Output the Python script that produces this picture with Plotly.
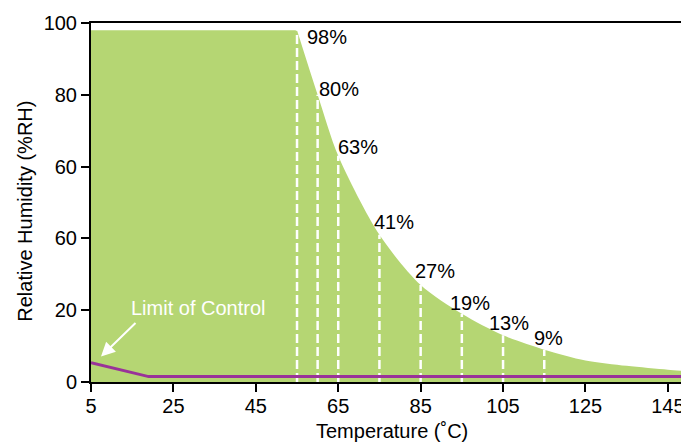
import plotly.graph_objects as go

# ---- data ----
flat_temp = [5, 55]
flat_rh = [98, 98]

curve_temp = [55, 60, 65, 75, 85, 95, 105, 115, 125, 135, 145, 149.4]
curve_rh = [98, 80, 63, 41, 27, 19, 13, 9, 6, 4.5, 3.4, 3.0]

marker_temp = [55, 60, 65, 75, 85, 95, 105, 115]
marker_rh = [98, 80, 63, 41, 27, 19, 13, 9]
marker_labels = ["98%", "80%", "63%", "41%", "27%", "19%", "13%", "9%"]

control_temp = [5, 19, 149.4]
control_rh = [5.4, 1.5, 1.5]

x_ticks = [5, 25, 45, 65, 85, 105, 125, 145]
y_ticks = [0, 20, 40, 60, 80, 100]
y_tick_labels = ["0", "20", "60", "60", "80", "100"]

# label offsets in pixels (style)
label_dx = [8, -1, -2, -7, -8, -14, -16, -12]
label_dy = [-7, 6, 9, 13, 14, 11, 12, 12]

GREEN = "#b5d673"
PURPLE = "#993399"
FONT = "Liberation Sans, Arial, sans-serif"
FS = 20

fig = go.Figure()

fig.add_trace(go.Scatter(x=flat_temp, y=flat_rh, mode="lines", fill="tozeroy",
                         fillcolor=GREEN, line=dict(color=GREEN, width=0),
                         hoverinfo="skip", showlegend=False))
fig.add_trace(go.Scatter(x=curve_temp, y=curve_rh, mode="lines", fill="tozeroy",
                         fillcolor=GREEN, line=dict(color=GREEN, width=0, shape="spline", smoothing=0.8),
                         hoverinfo="skip", showlegend=False))

# white dashed verticals
dx, dy = [], []
for t, v in zip(marker_temp, marker_rh):
    dx += [t, t, None]
    dy += [0, v, None]
fig.add_trace(go.Scatter(x=dx, y=dy, mode="lines",
                         line=dict(color="white", width=2.5, dash="9px,4px"),
                         hoverinfo="skip", showlegend=False))

fig.add_trace(go.Scatter(x=control_temp, y=control_rh, mode="lines",
                         line=dict(color=PURPLE, width=3),
                         hoverinfo="skip", showlegend=False))

annotations = []
for t, v, lab, sx, sy in zip(marker_temp, marker_rh, marker_labels, label_dx, label_dy):
    annotations.append(dict(x=t, y=v, xref="x", yref="y", text=lab, showarrow=False,
                            xanchor="left", yanchor="middle", xshift=sx, yshift=sy,
                            font=dict(family=FONT, size=FS, color="black")))

annotations.append(dict(x=control_temp[0], y=control_rh[0], xref="x", yref="y",
                        text="Limit of Control", showarrow=False, xanchor="left",
                        yanchor="middle", xshift=38, yshift=55,
                        font=dict(family=FONT, size=FS, color="white")))
annotations.append(dict(x=control_temp[0], y=control_rh[0], xref="x", yref="y",
                        text="", showarrow=True, ax=36, ay=-35,
                        xshift=10, yshift=6,
                        arrowhead=2, arrowsize=1.4, arrowwidth=2, arrowcolor="white"))

# axis titles
annotations.append(dict(x=-0.111, y=0.477, xref="paper", yref="paper",
                        text="Relative Humidity (%RH)", textangle=-90, showarrow=False,
                        xanchor="center", yanchor="middle",
                        font=dict(family=FONT, size=FS, color="black")))
annotations.append(dict(x=0.506, y=-0.136, xref="paper", yref="paper",
                        text="Temperature (˚C)", showarrow=False,
                        xanchor="center", yanchor="middle",
                        font=dict(family=FONT, size=FS, color="black")))

fig.update_layout(
    width=681, height=435,
    margin=dict(l=83, r=3, t=15, b=61),
    paper_bgcolor="white", plot_bgcolor="white",
    font=dict(family=FONT, size=FS, color="black"),
    annotations=annotations,
    xaxis=dict(range=[5, 149.4], tickvals=x_ticks, ticks="outside", ticklen=8,
               tickwidth=2, tickcolor="black", showline=True, linewidth=2,
               linecolor="black", mirror=True, showgrid=False, zeroline=False,
               automargin=False, tickfont=dict(size=FS), ticklabelstandoff=-3),
    yaxis=dict(range=[0, 100], tickvals=y_ticks, ticktext=y_tick_labels,
               ticks="outside", ticklen=8, tickwidth=2, tickcolor="black",
               showline=True, linewidth=2, linecolor="black", mirror=True,
               showgrid=False, zeroline=False, automargin=False,
               tickfont=dict(size=FS)),
)

fig.write_html("out.html")
